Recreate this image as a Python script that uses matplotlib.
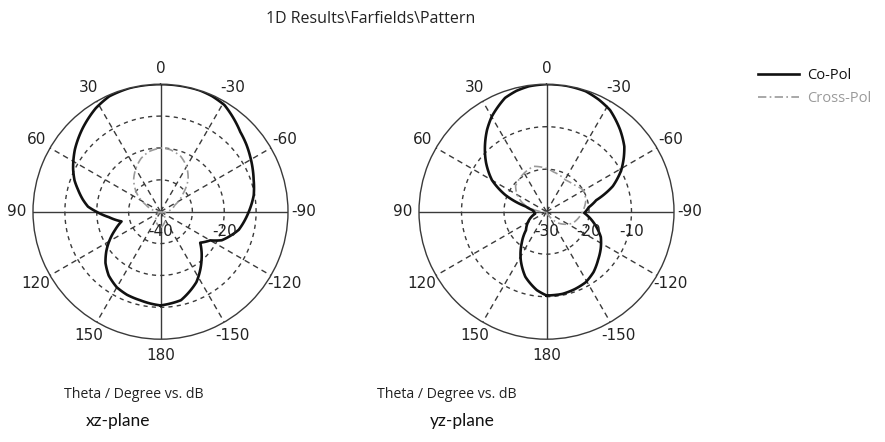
import matplotlib
matplotlib.use("Agg")
import matplotlib.pyplot as plt
import numpy as np

# xz-plane (left), dB, scale -40..0
xz_co_theta = [-180, -167, -153, -140, -128, -120, -115, -103, -90, -80, -71, -65, -58, -52, -45, -38, -31, -24, -18, -8, 0,
               7, 14, 24, 32, 43, 54, 64, 70, 75, 81, 86, 90, 96, 104, 112, 119, 126, 133, 141, 150, 158, 167, 174, 180]
xz_co_db = [-10.6, -11.5, -15.2, -20.0, -24.2, -22.0, -18.8, -14.8, -12.3, -10.3, -9.1, -8.1, -6.9, -5.8, -4.6, -2.8, -1.0, -0.3, 0.0, 0.0, 0.0,
            0.0, 0.0, -0.4, -1.7, -4.2, -6.8, -9.5, -11.3, -13.2, -15.3, -17.2, -19.9, -23.7, -27.4, -24.6, -21.8, -19.0, -16.4, -14.2, -12.6, -11.9, -11.5, -11.0, -10.6]
xz_x_theta = [-180, -150, -120, -90, -65, -51, -41, -30, -20, -9, 0, 11, 20, 28, 40, 52, 65, 90, 120, 150, 180]
xz_x_db = [-35, -37, -40, -38, -35, -30.8, -26.8, -23.6, -21.5, -20.3, -20.0, -20.8, -22.2, -24.0, -26.9, -30.5, -35, -40, -40, -37, -35]

# yz-plane (right), dB, scale -30..0
yz_co_theta = [-180, -169, -160, -151, -142, -133, -124, -115, -104, -92, -84, -77, -69, -61, -55, -50, -42, -32, -25, -18, -9, 0,
               8, 14, 20, 30, 36, 42, 51, 60, 68, 76, 83, 90, 100, 116, 132, 142, 152, 162, 173, 180]
yz_co_db = [-10.3, -10.3, -10.6, -11.0, -12.0, -13.4, -14.6, -15.9, -18.4, -21.1, -20.0, -18.0, -13.3, -9.9, -7.8, -6.1, -4.1, -1.8, -0.9, -0.2, 0.0, 0.0,
            -0.2, -0.7, -1.5, -4.2, -6.2, -8.4, -11.7, -15.2, -19.6, -25.0, -26.6, -27.1, -27.3, -25.4, -23.5, -20.5, -17.1, -13.9, -11.4, -10.3]
yz_x_theta = [-180, -150, -133, -114, -90, -73, -59, -45, -31, -10, 0, 16, 30, 40, 50, 60, 70, 85, 100, 180]
yz_x_db = [-30, -29, -26, -23.3, -21.5, -20.3, -20.0, -21.0, -21.3, -20.5, -19.8, -18.9, -19.5, -20.0, -20.5, -22.0, -24, -28, -30, -30]

angle_ticks = [0, 30, 60, 90, 120, 150, 180, -150, -120, -90, -60, -30]
angle_labels = [str(a) for a in angle_ticks]

GRID = "#3a3a3a"


def curved(line, steps=24):
    # let the polar transform draw each segment along theta/r instead of a chord
    line._path._interpolation_steps = steps
    line.set_data(*line.get_data())


def polar_panel(ax, rmin, ring_labels, co_t, co_db, x_t, x_db):
    ax.set_theta_zero_location("N")
    ax.set_theta_direction(1)
    ax.grid(False)

    full = np.linspace(0, 2 * np.pi, 361)
    for ring in range(rmin + 10, 0, 10):
        ax.plot(full, np.full_like(full, ring), color=GRID, lw=1.0, ls=(0, (3, 3)))
    for a in range(0, 360, 30):
        t = np.deg2rad(a)
        ls = "-" if a % 90 == 0 else (0, (4, 3))
        ax.plot([t, t], [rmin, 0], color=GRID, lw=1.0, ls=ls)

    ln_x, = ax.plot(np.deg2rad(x_t), np.clip(x_db, rmin, 0), color="#9a9a9a", lw=1.2,
                    ls=(0, (5, 2, 1, 2)), label="Cross-Pol")
    ln_co, = ax.plot(np.deg2rad(co_t), np.clip(co_db, rmin, 0), color="#111111", lw=1.9,
                     label="Co-Pol")
    curved(ln_x)
    curved(ln_co)

    ax.set_xlim(0, 2 * np.pi)
    ax.set_ylim(rmin, 0)
    ax.set_yticks([])
    ax.set_xticks(np.deg2rad(np.mod(angle_ticks, 360)))
    ax.set_xticklabels(angle_labels, fontsize=11, color="#222222")
    ax.tick_params(axis="x", pad=1)
    ax.spines["polar"].set_color(GRID)
    ax.spines["polar"].set_linewidth(1.0)

    for val in ring_labels:
        frac = (val - rmin) / (-rmin)
        ax.text(0.5 + frac / 2, 0.5 - 20 / 255, str(val), transform=ax.transAxes,
                ha="center", va="center", fontsize=11, color="#222222")


fig = plt.figure(figsize=(8.85, 4.42), dpi=100)

ax1 = fig.add_axes([33 / 885, 1 - 339.2 / 442, 255 / 885, 255 / 442], projection="polar")
polar_panel(ax1, -40, [-40, -20], xz_co_theta, xz_co_db, xz_x_theta, xz_x_db)

ax2 = fig.add_axes([419 / 885, 1 - 339.2 / 442, 255 / 885, 255 / 442], projection="polar")
polar_panel(ax2, -30, [-30, -20, -10], yz_co_theta, yz_co_db, yz_x_theta, yz_x_db)

fig.text(371 / 885, 1 - 19 / 442, "1D Results\\Farfields\\Pattern", ha="center", va="center",
         fontsize=11.5, family="Open Sans", color="#222222")
fig.text(134 / 885, 1 - 395 / 442, "Theta / Degree vs. dB", ha="center", va="center",
         fontsize=10.2, family="Open Sans", color="#222222")
fig.text(118 / 885, 1 - 421 / 442, "xz-plane", ha="center", va="center",
         fontsize=12.5, family="Lato", color="#111111")
fig.text(447 / 885, 1 - 395 / 442, "Theta / Degree vs. dB", ha="center", va="center",
         fontsize=10.2, family="Open Sans", color="#222222")
fig.text(462 / 885, 1 - 421 / 442, "yz-plane", ha="center", va="center",
         fontsize=12.5, family="Lato", color="#111111")

h, l = ax2.get_legend_handles_labels()
fig.legend(h[::-1], l[::-1], loc="upper left", bbox_to_anchor=(752 / 885, 1 - 62 / 442),
           frameon=False, prop={"family": "Open Sans", "size": 10.5}, handlelength=2.8,
           labelcolor="linecolor", labelspacing=0.55, borderaxespad=0, handletextpad=0.6)

fig.savefig("out.png", dpi=100)
